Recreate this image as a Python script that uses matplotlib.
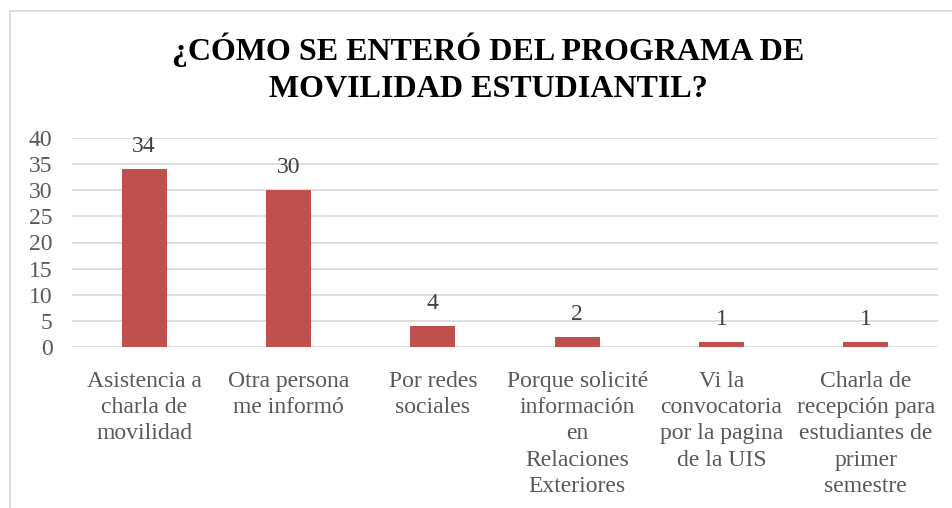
import matplotlib
matplotlib.use("Agg")
import matplotlib.pyplot as plt
from matplotlib.lines import Line2D

categories = [
    "Asistencia a\ncharla de\nmovilidad",
    "Otra persona\nme informó",
    "Por redes\nsociales",
    "Porque solicité\ninformación\nen\nRelaciones\nExteriores",
    "Vi la\nconvocatoria\npor la pagina\nde la UIS",
    "Charla de\nrecepción para\nestudiantes de\nprimer\nsemestre",
]
counts = [34, 30, 4, 2, 1, 1]
y_ticks = [0, 5, 10, 15, 20, 25, 30, 35, 40]

plt.rcParams['font.family'] = ['Liberation Serif', 'DejaVu Serif']
grey_text = '#595959'
bar_color = '#C0504D'
fs = 17

fig = plt.figure(figsize=(9.52, 5.08), dpi=100)
ax = fig.add_axes([72 / 952, 1 - 347 / 508, (938 - 72) / 952, (347 - 138) / 508])

x = list(range(len(categories)))
ax.bar(x, counts, width=0.31, color=bar_color, zorder=3)
for xi, v in zip(x, counts):
    ax.text(xi, v + 2.3, str(v), ha='center', va='bottom', fontsize=fs, color='#404040')

ax.set_xlim(-0.5, len(categories) - 0.5)
ax.set_ylim(0, 40)
ax.set_yticks(y_ticks)
ax.set_yticklabels([str(t) for t in y_ticks], fontsize=fs, color=grey_text)
ax.set_xticks(x)
ax.set_xticklabels(categories, fontsize=fs, color=grey_text, linespacing=1.34, va='top')
ax.tick_params(axis='both', length=0)
ax.tick_params(axis='y', pad=14)
ax.tick_params(axis='x', pad=17)
ax.grid(axis='y', color='#D9D9D9', linewidth=1.2, zorder=0)
for s in ax.spines.values():
    s.set_visible(False)

fig.text(488 / 952, 1 - 68 / 508, "¿CÓMO SE ENTERÓ DEL PROGRAMA DE\nMOVILIDAD ESTUDIANTIL?",
         ha='center', va='center', fontsize=23, fontweight='bold', color='black', linespacing=1.35)

# chart border (left and top edges visible)
fig.add_artist(Line2D([10 / 952, 10 / 952], [0, 1 - 11 / 508], transform=fig.transFigure,
                      color='#D9D9D9', linewidth=1.2))
fig.add_artist(Line2D([10 / 952, 1], [1 - 11 / 508, 1 - 11 / 508], transform=fig.transFigure,
                      color='#D9D9D9', linewidth=1.2))

fig.savefig("out.png", dpi=100, facecolor='white')
